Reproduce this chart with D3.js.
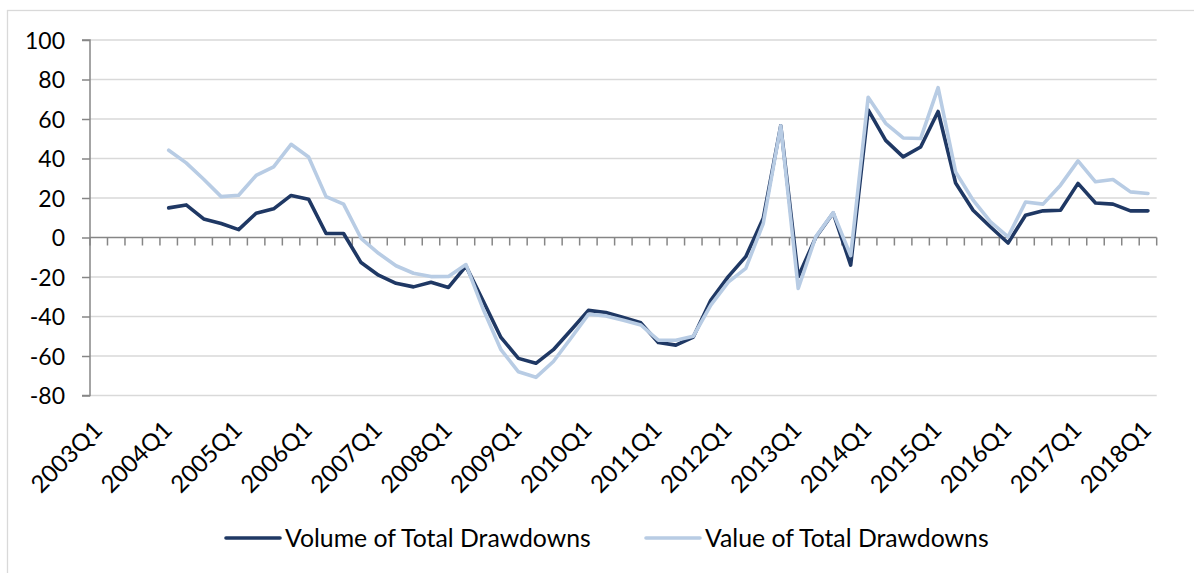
<!DOCTYPE html>
<html>
<head>
<meta charset="utf-8">
<script src="https://cdn.jsdelivr.net/npm/d3@7"></script>
<style>
  html, body { margin: 0; padding: 0; background: #fff; }
  svg { display: block; font-family: Lato, "Open Sans", sans-serif; }
</style>
</head>
<body>
<svg id="chart" width="1194" height="573"></svg>
<script>
// ---- data ----
const categories = [];
for (let yr = 2003; yr <= 2018; yr++) {
  for (let q = 1; q <= 4; q++) {
    if (yr === 2018 && q > 1) break;
    categories.push(yr + "Q" + q);
  }
}
// values start at 2004Q1 (2003 quarters empty)
const volumeValues = [
  null, null, null, null,
  15, 16.5, 9.4, 7.1, 4, 12.3, 14.5, 21.3, 19.4, 2, 2, -12.7,
  -19.1, -23.2, -25, -22.7, -25.3, -14.5, -32.4, -50.6, -61.2, -63.7, -56.8, -47,
  -36.9, -38, -40.5, -43.2, -53.2, -54.5, -50.4, -31.8, -19.8, -9.7, 9.7, 56.6,
  -19.9, 0, 12.4, -14, 64.6, 49.2, 40.8, 45.8, 63.8, 27.6, 13.8, 5.3,
  -2.8, 11.3, 13.5, 13.8, 27.4, 17.5, 16.9, 13.5, 13.5
];
const valueValues = [
  null, null, null, null,
  44.2, 37.8, 29.5, 20.7, 21.4, 31.4, 35.8, 47.2, 40.8, 20.7, 16.9, -0.4,
  -8, -14.3, -18.1, -19.8, -19.7, -13.7, -36.6, -56.8, -68, -70.8, -62.8, -51,
  -38.9, -39.7, -41.9, -44.3, -52, -52, -50, -34.2, -22.6, -15.6, 7.1, 56.6,
  -25.8, 0.3, 12.6, -9.2, 71, 57.8, 50.4, 50.1, 75.9, 33.2, 18.9, 7.9,
  0.3, 18, 16.9, 26.5, 38.8, 28.2, 29.4, 23.1, 22.3
];
const seriesNames = ["Volume of Total Drawdowns", "Value of Total Drawdowns"];
const seriesColors = ["#1f3864", "#b8cce4"];
const yTicks = [-80, -60, -40, -20, 0, 20, 40, 60, 80, 100];
const xLabelEvery = 4;

// ---- layout ----
const svg = d3.select("#chart");
const pLeft = 90, pRight = 1156.7, pTop = 40, pBottom = 395.5;
const x = d3.scaleBand().domain(categories).range([pLeft, pRight]).padding(0);
const y = d3.scaleLinear().domain([-80, 100]).range([pBottom, pTop]);

// outer frame
svg.append("rect").attr("x", 7.5).attr("y", 10.5).attr("width", 1200).attr("height", 580)
  .attr("fill", "none").attr("stroke", "#d9d9d9").attr("stroke-width", 1.3);

// gridlines
svg.append("g").selectAll("line").data(yTicks.filter(d => d !== 0)).join("line")
  .attr("x1", pLeft).attr("x2", pRight)
  .attr("y1", d => y(d)).attr("y2", d => y(d))
  .attr("stroke", "#d9d9d9").attr("stroke-width", 1.3);

// y axis
const yAxis = d3.axisLeft(y).tickValues(yTicks).tickSize(8).tickPadding(17)
  .tickFormat(d => String(d));
const gy = svg.append("g").attr("transform", `translate(${pLeft},0)`).call(yAxis);
gy.select(".domain").attr("stroke", "#868686").attr("stroke-width", 1.5)
  .attr("d", `M-8,${pBottom}H0V${pTop}H-8`);
gy.selectAll(".tick line").attr("stroke", "#868686").attr("stroke-width", 1.5);
gy.selectAll(".tick text").attr("font-family", "Lato, sans-serif").attr("font-size", 23)
  .attr("fill", "#000").attr("dy", "0.36em");

// x axis along zero
const gx = svg.append("g");
gx.append("line").attr("x1", pLeft).attr("x2", pRight).attr("y1", y(0)).attr("y2", y(0))
  .attr("stroke", "#868686").attr("stroke-width", 1.5);
const tickPos = categories.map(c => x(c)).concat([pRight]);
gx.selectAll("line.tk").data(tickPos).join("line").attr("class", "tk")
  .attr("x1", d => d).attr("x2", d => d).attr("y1", y(0)).attr("y2", y(0) + 8)
  .attr("stroke", "#868686").attr("stroke-width", 1.5);

// x labels
const labelCats = categories.filter((c, i) => i % xLabelEvery === 0);
svg.append("g").selectAll("text").data(labelCats).join("text")
  .attr("transform", d => `translate(${x(d) + x.bandwidth() / 2 + 5},${pBottom + 36}) rotate(-45)`)
  .attr("text-anchor", "end")
  .attr("font-size", 24).attr("fill", "#000")
  .text(d => d);

// lines
const line = d3.line()
  .defined(d => d.v !== null)
  .x(d => x(d.c) + x.bandwidth() / 2)
  .y(d => y(d.v));
[volumeValues, valueValues].forEach((vals, k) => {
  const data = categories.map((c, i) => ({ c, v: vals[i] }));
  svg.append("path").datum(data)
    .attr("d", line)
    .attr("fill", "none")
    .attr("stroke", seriesColors[k])
    .attr("stroke-width", 3.6)
    .attr("stroke-linejoin", "round")
    .attr("stroke-linecap", "round");
});

// legend
const legendX = [226, 646];
const legendY = 538;
const lg = svg.append("g").selectAll("g").data(seriesNames).join("g")
  .attr("transform", (d, i) => `translate(${legendX[i]},${legendY})`);
lg.append("line").attr("x1", 0).attr("x2", 54).attr("y1", 0).attr("y2", 0)
  .attr("stroke", (d, i) => seriesColors[i]).attr("stroke-width", 3.6)
  .attr("stroke-linecap", "round");
lg.append("text").attr("x", 59).attr("y", 0).attr("dy", "0.36em")
  .attr("font-size", 24.8).attr("fill", "#000").text(d => d);
</script>
</body>
</html>
